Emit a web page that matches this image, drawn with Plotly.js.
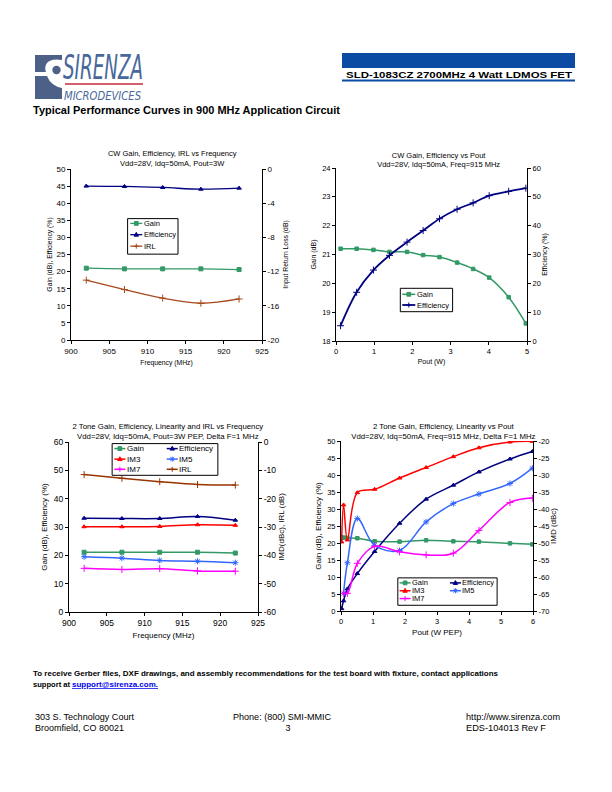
<!DOCTYPE html>
<html>
<head>
<meta charset="utf-8">
<script src="https://cdn.plot.ly/plotly-3.0.1.min.js"></script>
<style>
  html,body{margin:0;padding:0;background:#fff;}
  body{width:612px;height:792px;position:relative;overflow:hidden;font-family:"Liberation Sans",Arial,sans-serif;}
  #page{position:absolute;left:0;top:0;}
  .chart{position:absolute;overflow:visible;}
</style>
</head>
<body>
<svg id="page" width="612" height="792" xmlns="http://www.w3.org/2000/svg">
  <!-- logo -->
  <path d="M35,55 L62,55 L62,60 Q51,58 47,63 Q44,67 46,72 L35,72 Z" fill="#4d6188"/>
  <path d="M35,76 L47,76 Q51,86 62,88 L62,99 L35,99 Z" fill="#4d6188"/>
  <circle cx="56.5" cy="70" r="4.2" fill="#4d6188"/>
  <text x="63" y="79" font-family="Liberation Sans Narrow, DejaVu Sans Condensed, Liberation Sans" font-style="italic" font-size="33" fill="#48689a" textLength="80" lengthAdjust="spacingAndGlyphs">SIRENZA</text>
  <line x1="65" y1="84" x2="143" y2="84" stroke="#c8283c" stroke-width="1.6"/>
  <text x="64" y="99.5" font-family="Liberation Sans Narrow, DejaVu Sans Condensed, Liberation Sans" font-style="italic" font-size="13" fill="#48689a" textLength="77" lengthAdjust="spacingAndGlyphs">MICRODEVICES</text>
  <!-- header bar -->
  <rect x="342" y="53" width="233" height="15" fill="#0b4ba3"/>
  <text x="572" y="77.5" text-anchor="end" font-family="Liberation Sans, Arial" font-weight="bold" font-size="9.5" fill="#000" textLength="226" lengthAdjust="spacingAndGlyphs">SLD-1083CZ 2700MHz 4 Watt LDMOS FET</text>
  <rect x="342" y="79.5" width="233" height="2" fill="#0b4ba3"/>
  <!-- section title -->
  <text x="33" y="114" font-family="Liberation Sans, Arial" font-weight="bold" font-size="11.5" fill="#000" textLength="307" lengthAdjust="spacingAndGlyphs">Typical Performance Curves in 900 MHz Application Circuit</text>
  <!-- footer -->
  <text x="33" y="676" font-family="Liberation Sans, Arial" font-weight="bold" font-size="7.6" fill="#000" textLength="465" lengthAdjust="spacingAndGlyphs">To receive Gerber files, DXF drawings, and assembly recommendations for the test board with fixture, contact applications</text>
  <text x="33" y="687" font-family="Liberation Sans, Arial" font-weight="bold" font-size="7.6" fill="#000" textLength="37" lengthAdjust="spacingAndGlyphs">support at</text>
  <text x="72" y="687" font-family="Liberation Sans, Arial" font-weight="bold" font-size="7.6" fill="#0000ee" text-decoration="underline" textLength="86" lengthAdjust="spacingAndGlyphs">support@sirenza.com.</text>
  <text x="35" y="720" font-family="Liberation Sans, Arial" font-size="9" fill="#000" textLength="99" lengthAdjust="spacingAndGlyphs">303 S. Technology Court</text>
  <text x="35" y="731" font-family="Liberation Sans, Arial" font-size="9" fill="#000" textLength="89" lengthAdjust="spacingAndGlyphs">Broomfield, CO 80021</text>
  <text x="233" y="720" font-family="Liberation Sans, Arial" font-size="9" fill="#000" textLength="98" lengthAdjust="spacingAndGlyphs">Phone: (800) SMI-MMIC</text>
  <text x="288" y="731" text-anchor="middle" font-family="Liberation Sans, Arial" font-size="9" fill="#000">3</text>
  <text x="466" y="720" font-family="Liberation Sans, Arial" font-size="9" fill="#000" textLength="94" lengthAdjust="spacingAndGlyphs">http://www.sirenza.com</text>
  <text x="466" y="731" font-family="Liberation Sans, Arial" font-size="9" fill="#000" textLength="80" lengthAdjust="spacingAndGlyphs">EDS-104013  Rev F</text>
</svg>

<div id="c1" class="chart"></div>
<div id="c2" class="chart"></div>
<div id="c3" class="chart"></div>
<div id="c4" class="chart"></div>

<script>
const FONT = '"Liberation Sans", Arial, sans-serif';

// ---------- Chart 1: CW Gain, Efficiency, IRL vs Frequency ----------
const c1Freq = [902, 907, 912, 917, 922];
const c1Gain = [21.0, 20.8, 20.8, 20.8, 20.6];
const c1Eff  = [45.0, 44.9, 44.6, 44.1, 44.4];
const c1Irl  = [-13.0, -14.1, -15.1, -15.7, -15.2];
const c1RightTicks = [0, -4, -8, -12, -16, -20];

// ---------- Chart 2: CW Gain, Efficiency vs Pout ----------
const c2Pout = [0.12, 0.54, 0.98, 1.40, 1.86, 2.28, 2.71, 3.17, 3.59, 4.01, 4.52, 4.97];
const c2Gain = [21.2, 21.2, 21.16, 21.09, 21.09, 20.98, 20.91, 20.72, 20.50, 20.20, 19.52, 18.61];
const c2Eff  = [5.3, 16.9, 24.6, 29.7, 34.3, 38.3, 42.4, 45.7, 47.9, 50.4, 51.9, 53.0];
const c2RightTicks = [0, 10, 20, 30, 40, 50, 60];

// ---------- Chart 3: 2 Tone vs Frequency ----------
const c3Freq = [902, 907, 912, 917, 922];
const c3Gain = [21.1, 21.1, 21.1, 21.1, 20.8];
const c3Eff  = [33.1, 33.0, 33.0, 33.7, 32.4];
const c3Im3  = [-29.9, -29.9, -29.8, -29.2, -29.4];
const c3Im5  = [-40.5, -41.0, -41.8, -42.1, -42.6];
const c3Im7  = [-44.6, -45.0, -44.7, -45.5, -45.6];
const c3Irl  = [-11.5, -12.8, -14.0, -15.0, -15.2];
const c3RightTicks = [0, -10, -20, -30, -40, -50, -60];

// ---------- Chart 4: 2 Tone vs Pout ----------
const c4Pout  = [0.02, 0.08, 0.2, 0.51, 1.05, 1.83, 2.66, 3.51, 4.31, 5.28, 5.98];
const c4Gain  = [21.6, 21.6, 21.5, 21.4, 20.5, 20.4, 20.8, 20.5, 20.4, 19.9, 19.6];
const c4Eff   = [0.7, 3.0, 6.5, 11.0, 17.5, 25.8, 32.9, 37.0, 40.9, 44.7, 46.9];
const c4Im3   = [-49.7, -38.8, -49.1, -35.2, -34.2, -30.9, -27.8, -24.6, -22.0, -20.3, -20.1];
const c4PoutIm = [0.08, 0.2, 0.51, 1.05, 1.83, 2.66, 3.51, 4.31, 5.28, 5.98];
const c4Im5   = [-64.8, -55.8, -42.8, -50.7, -52.2, -43.8, -38.4, -35.6, -32.5, -28.0];
const c4Im7   = [-64.8, -64.8, -56.0, -51.0, -52.6, -53.5, -53.0, -46.3, -38.1, -36.8];
const c4RightTicks = [-20, -25, -30, -35, -40, -45, -50, -55, -60, -65, -70];

const GREEN = '#339966', NAVY = '#000080', BROWN = '#993300', RED = '#ff0000', BLUE = '#3366ff', MAGENTA = '#ff00ff';

function markerShape(sym, X, Y, color, P) {
  const r = 1.9;
  const pt = (x, y) => { const q = P(x, y); return q[0].toFixed(5) + ',' + q[1].toFixed(5); };
  let path;
  if (sym.indexOf('square') === 0) path = 'M' + pt(X-r, Y-r) + 'L' + pt(X+r, Y-r) + 'L' + pt(X+r, Y+r) + 'L' + pt(X-r, Y+r) + 'Z';
  else if (sym.indexOf('triangle') === 0) path = 'M' + pt(X, Y-r-0.4) + 'L' + pt(X+r+0.3, Y+r-0.4) + 'L' + pt(X-r-0.3, Y+r-0.4) + 'Z';
  else if (sym.indexOf('cross') === 0) path = 'M' + pt(X-r-0.6, Y) + 'L' + pt(X+r+0.6, Y) + 'M' + pt(X, Y-r-0.6) + 'L' + pt(X, Y+r+0.6);
  else path = 'M' + pt(X-r, Y-r) + 'L' + pt(X+r, Y+r) + 'M' + pt(X-r, Y+r) + 'L' + pt(X+r, Y-r) + 'M' + pt(X, Y-r-0.6) + 'L' + pt(X, Y+r+0.6);
  return {type: 'path', xref: 'paper', yref: 'paper', path: path, fillcolor: color, line: {color: color, width: 1}};
}

function drawChart(id, s) {
  const el = document.getElementById(id);
  el.style.left = s.div.left + 'px';
  el.style.top = s.div.top + 'px';
  el.style.width = s.div.w + 'px';
  el.style.height = s.div.h + 'px';
  const X0 = s.plot[0], X1 = s.plot[1], Y0 = s.plot[2], Y1 = s.plot[3];
  const P = (X, Y) => [(X - X0) / (X1 - X0), (Y1 - Y) / (Y1 - Y0)];

  const traces = s.series.map(sr => ({
    type: 'scatter', mode: 'lines+markers', name: sr.name,
    x: sr.x, y: sr.y, xaxis: 'x', yaxis: sr.right ? 'y2' : 'y',
    line: {color: sr.color, width: sr.width || 1.5, shape: 'spline', smoothing: 1},
    marker: {symbol: sr.symbol, size: sr.msize || 4, color: sr.color, line: {color: sr.color, width: 1}},
    hoverinfo: 'skip', showlegend: false
  }));

  // legend box drawn from series names and colours
  const shapes = [], annotations = [];
  const lg = s.legend;
  const b0 = P(lg.box[0], lg.box[1]), b1 = P(lg.box[2], lg.box[3]);
  shapes.push({type: 'rect', xref: 'paper', yref: 'paper', x0: b0[0], y0: b1[1], x1: b1[0], y1: b0[1],
               fillcolor: '#ffffff', line: {color: '#000', width: 1}, layer: 'above'});
  lg.items.forEach(it => {
    const sr = s.series.find(q => q.name === it.name);
    const X = lg.cols[it.col], Y = lg.rows[it.row];
    const a = P(X, Y), c = P(X + lg.sample, Y);
    shapes.push({type: 'line', xref: 'paper', yref: 'paper', x0: a[0], x1: c[0], y0: a[1], y1: a[1],
                 line: {color: sr.color, width: sr.width || 1.5}});
    shapes.push(markerShape(sr.symbol, X + lg.sample / 2, Y, sr.color, P));
    const t = P(X + lg.sample + 1.5, Y);
    annotations.push({xref: 'paper', yref: 'paper', x: t[0], y: t[1], text: sr.name, showarrow: false,
                      xanchor: 'left', yanchor: 'middle', borderpad: 0, borderwidth: 0,
                      font: {family: FONT, size: lg.size, color: '#000'}});
  });

  const axBase = {showgrid: false, zeroline: false, showline: true, linecolor: '#000', linewidth: 1,
                  ticks: 'outside', ticklen: 3, tickwidth: 1, tickcolor: '#000',
                  tickfont: {family: FONT, size: s.tickSize, color: '#000'}, fixedrange: true};

  const layout = {
    width: s.div.w, height: s.div.h,
    margin: {l: X0 - s.div.left, r: s.div.left + s.div.w - X1, t: Y0 - s.div.top, b: s.div.top + s.div.h - Y1, pad: 0},
    paper_bgcolor: 'rgba(0,0,0,0)', plot_bgcolor: 'rgba(0,0,0,0)',
    font: {family: FONT, size: s.tickSize, color: '#000'},
    showlegend: false,
    title: {text: s.title, x: s.titleX, xref: 'container', xanchor: 'center', y: s.titleY, yref: 'container', yanchor: 'middle',
            font: {family: FONT, size: s.titleSize, color: '#000'}},
    xaxis: Object.assign({}, axBase, {range: s.xRange, tickmode: 'linear', tick0: s.xRange[0], dtick: s.xDtick,
            title: {text: s.xTitle, standoff: s.xStandoff, font: {family: FONT, size: s.axTitleSize, color: '#000'}}}),
    yaxis: Object.assign({}, axBase, {range: s.yRange, tickmode: 'linear', tick0: s.yRange[0], dtick: s.yDtick,
            title: {text: s.yTitle, standoff: s.yStandoff, font: {family: FONT, size: s.axTitleSize, color: '#000'}}}),
    yaxis2: Object.assign({}, axBase, {range: s.y2Range, overlaying: 'y', side: 'right', anchor: 'x',
            tickmode: 'array', tickvals: s.y2Ticks, ticktext: s.y2Ticks.map(String),
            title: {text: s.y2Title, standoff: s.y2Standoff, font: {family: FONT, size: s.axTitleSize, color: '#000'}}}),
    // grid-only overlay axes (gridlines as seen in the reference)
    xaxis2: {overlaying: 'x', anchor: 'y', side: 'bottom', range: s.xRange, tickmode: 'array', tickvals: s.gridX,
             showticklabels: false, ticks: '', showline: false, zeroline: false, showgrid: true, gridcolor: '#000', gridwidth: 1, fixedrange: true},
    yaxis3: {overlaying: 'y', anchor: 'x', side: 'left', range: s.yRange, tickmode: 'array', tickvals: s.gridY,
             showticklabels: false, ticks: '', showline: false, zeroline: false, showgrid: true, gridcolor: '#000', gridwidth: 1, fixedrange: true},
    shapes: shapes, annotations: annotations
  };
  Plotly.newPlot(el, traces, layout, {staticPlot: true, displayModeBar: false});
}

drawChart('c1', {
  div: {left: 20, top: 140, w: 280, h: 235}, plot: [70.7, 261.7, 169, 340.3],
  title: 'CW Gain, Efficiency, IRL vs Frequency<br>Vdd=28V, Idq=50mA, Pout=3W', titleX: 0.5436, titleY: 0.9306, titleSize: 7.5,
  tickSize: 8, axTitleSize: 6.8,
  xRange: [900, 925], xDtick: 5, xTitle: 'Frequency (MHz)', xStandoff: 5,
  yRange: [0, 50], yDtick: 5, yTitle: 'Gain (dB), Efficiency (%)', yStandoff: 3,
  y2Range: [-20, 0], y2Ticks: c1RightTicks, y2Title: 'Input Return Loss (dB)', y2Standoff: 4,
  gridX: [910, 915], gridY: [5, 10, 30, 35, 40, 45],
  series: [
    {name: 'Gain', x: c1Freq, y: c1Gain, color: GREEN, symbol: 'square', width: 1.3},
    {name: 'Efficiency', x: c1Freq, y: c1Eff, color: NAVY, symbol: 'triangle-up', width: 1.3},
    {name: 'IRL', x: c1Freq, y: c1Irl, right: true, color: '#a8481c', symbol: 'cross-thin-open', msize: 5, width: 1.3}
  ],
  legend: {box: [127.3, 218.7, 177.7, 254.3], cols: [130], rows: [223.5, 234.8, 246.3], sample: 12, size: 7.5,
           items: [{name: 'Gain', col: 0, row: 0}, {name: 'Efficiency', col: 0, row: 1}, {name: 'IRL', col: 0, row: 2}]}
});

drawChart('c2', {
  div: {left: 300, top: 140, w: 280, h: 235}, plot: [335.7, 526.7, 168, 341],
  title: 'CW Gain, Efficiency vs Pout<br>Vdd=28V, Idq=50mA, Freq=915 MHz', titleX: 0.495, titleY: 0.9247, titleSize: 7.5,
  tickSize: 7.5, axTitleSize: 7,
  xRange: [0, 5], xDtick: 1, xTitle: 'Pout (W)', xStandoff: 4,
  yRange: [18, 24], yDtick: 1, yTitle: 'Gain (dB)', yStandoff: 4,
  y2Range: [0, 60], y2Ticks: c2RightTicks, y2Title: 'Efficiency (%)', y2Standoff: 2,
  gridX: [1, 2, 3, 4], gridY: [19, 23],
  series: [
    {name: 'Gain', x: c2Pout, y: c2Gain, color: GREEN, symbol: 'square', width: 1.5, msize: 3.5},
    {name: 'Efficiency', x: c2Pout, y: c2Eff, right: true, color: NAVY, symbol: 'cross-thin-open', width: 1.8, msize: 5}
  ],
  legend: {box: [400, 288.3, 452.3, 311.7], cols: [402], rows: [294.3, 305], sample: 13, size: 7.5,
           items: [{name: 'Gain', col: 0, row: 0}, {name: 'Efficiency', col: 0, row: 1}]}
});

drawChart('c3', {
  div: {left: 20, top: 410, w: 280, h: 240}, plot: [69.3, 257.7, 441.7, 611.7],
  title: '2 Tone Gain, Efficiency, Linearity and IRL vs Frequency<br>Vdd=28V, Idq=50mA, Pout=3W PEP, Delta F=1 MHz', titleX: 0.528, titleY: 0.92, titleSize: 7.8,
  tickSize: 8.5, axTitleSize: 8,
  xRange: [900, 925], xDtick: 5, xTitle: 'Frequency (MHz)', xStandoff: 5,
  yRange: [0, 60], yDtick: 10, yTitle: 'Gain (dB), Efficiency (%)', yStandoff: 5,
  y2Range: [-60, 0], y2Ticks: c3RightTicks, y2Title: 'IMD(dBc), IRL (dB)', y2Standoff: 3,
  gridX: [910, 915], gridY: [40, 50],
  series: [
    {name: 'Gain', x: c3Freq, y: c3Gain, color: GREEN, symbol: 'square'},
    {name: 'Efficiency', x: c3Freq, y: c3Eff, color: NAVY, symbol: 'triangle-up'},
    {name: 'IM3', x: c3Freq, y: c3Im3, right: true, color: RED, symbol: 'triangle-up'},
    {name: 'IM5', x: c3Freq, y: c3Im5, right: true, color: BLUE, symbol: 'asterisk-open', msize: 5},
    {name: 'IM7', x: c3Freq, y: c3Im7, right: true, color: MAGENTA, symbol: 'cross-thin-open', msize: 5},
    {name: 'IRL', x: c3Freq, y: c3Irl, right: true, color: BROWN, symbol: 'cross-thin-open', msize: 5}
  ],
  legend: {box: [112.3, 443.3, 217.7, 475], cols: [114.5, 166.7], rows: [448.3, 458.8, 469], sample: 11, size: 8,
           items: [{name: 'Gain', col: 0, row: 0}, {name: 'Efficiency', col: 1, row: 0},
                   {name: 'IM3', col: 0, row: 1}, {name: 'IM5', col: 1, row: 1},
                   {name: 'IM7', col: 0, row: 2}, {name: 'IRL', col: 1, row: 2}]}
});

drawChart('c4', {
  div: {left: 300, top: 410, w: 280, h: 240}, plot: [340.7, 533.3, 441.3, 610.7],
  title: '2 Tone Gain, Efficiency, Linearity vs Pout<br>Vdd=28V, Idq=50mA, Freq=915 MHz, Delta F=1 MHz', titleX: 0.512, titleY: 0.922, titleSize: 7.8,
  tickSize: 7.5, axTitleSize: 8,
  xRange: [0, 6], xDtick: 1, xTitle: 'Pout (W PEP)', xStandoff: 4,
  yRange: [0, 50], yDtick: 5, yTitle: 'Gain (dB), Efficiency (%)', yStandoff: 4,
  y2Range: [-70, -20], y2Ticks: c4RightTicks, y2Title: 'IMD (dBc)', y2Standoff: 2,
  gridX: [2, 3, 4], gridY: [5, 10, 40, 45],
  series: [
    {name: 'Gain', x: c4Pout, y: c4Gain, color: GREEN, symbol: 'square', msize: 3.5},
    {name: 'Efficiency', x: c4Pout, y: c4Eff, color: NAVY, symbol: 'triangle-up'},
    {name: 'IM3', x: c4Pout, y: c4Im3, right: true, color: RED, symbol: 'triangle-up'},
    {name: 'IM5', x: c4PoutIm, y: c4Im5, right: true, color: BLUE, symbol: 'asterisk-open', msize: 5},
    {name: 'IM7', x: c4PoutIm, y: c4Im7, right: true, color: MAGENTA, symbol: 'cross-thin-open', msize: 5}
  ],
  legend: {box: [397.7, 577.7, 497.3, 605], cols: [399.5, 450], rows: [582.7, 590.5, 598.3], sample: 11, size: 7.5,
           items: [{name: 'Gain', col: 0, row: 0}, {name: 'Efficiency', col: 1, row: 0},
                   {name: 'IM3', col: 0, row: 1}, {name: 'IM5', col: 1, row: 1},
                   {name: 'IM7', col: 0, row: 2}]}
});
</script>
</body>
</html>
